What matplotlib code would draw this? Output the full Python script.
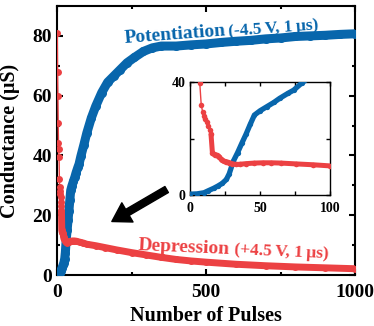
import numpy as np
import matplotlib
matplotlib.use("Agg")
import matplotlib.pyplot as plt
from matplotlib.ticker import MultipleLocator, FixedLocator

plt.rcParams['font.family'] = ['Liberation Serif', 'DejaVu Serif']
plt.rcParams['font.weight'] = 'bold'
plt.rcParams['mathtext.default'] = 'regular'

# Potentiation branch (-4.5 V, 1 us pulses)
pulse_pot = [0, 5, 10, 13, 17, 20, 23, 26, 28, 31, 34, 37, 40, 43, 46, 50, 55, 60,
             64, 70, 74, 80, 90, 100, 115, 130, 150, 170, 190, 210, 235, 260, 290,
             320, 350, 400, 450, 500, 550, 600, 650, 700, 750, 800, 850, 900, 950, 1000]
g_pot = [0.3, 0.4, 0.8, 1.5, 2.4, 3.2, 4.1, 5.5, 7.5, 12, 15, 18.3, 21.5, 25, 28.3,
         29.8, 31.3, 32.8, 34.2, 36, 37.1, 39.7, 43.5, 47.5, 52.5, 56.5, 61, 64.5,
         66.5, 68.5, 71, 72.8, 74.8, 76, 76.6, 76.6, 77, 77.3, 77.8, 78.2, 78.5, 79,
         79.3, 79.8, 80, 80.2, 80.5, 80.7]

# Depression branch (+4.5 V, 1 us pulses)
pulse_dep = [1, 2, 3, 4, 5, 6, 7, 8, 9, 10, 11, 12, 13, 14, 15, 16, 17, 18, 19, 20,
             21, 22, 23, 24, 26, 28, 30, 33, 36, 40, 46, 52, 58, 65, 76, 88, 100, 130,
             160, 200, 250, 300, 350, 400, 450, 500, 600, 700, 800, 900, 1000]
g_dep = [81, 68, 60, 51, 44, 42, 39.5, 32, 29.5, 28, 27, 26, 24.5, 23, 21.5, 15, 14.5,
         14.3, 14.1, 13.8, 13.5, 12.8, 12.3, 12, 11.8, 11.5, 11.1, 10.8, 10.9, 11.1,
         11.3, 11.4, 11.4, 11.3, 11, 10.7, 10.3, 9.8, 9.2, 8.4, 7.5, 6.7, 5.9, 5.2,
         4.7, 4.3, 3.6, 3.1, 2.7, 2.4, 2.1]

x_ticks_main = [0, 500, 1000]
y_ticks_main = [0, 20, 40, 60, 80]
x_ticks_inset = [0, 50, 100]
y_ticks_inset = [0, 40]

BLUE = '#0866ac'
RED = '#ec4143'
W, H = 374, 326


def draw_series(ax, x, y, color, ms, band_lw, dense_from):
    x = np.asarray(x, float)
    y = np.asarray(y, float)
    ax.plot(x, y, '-o', color=color, lw=1.0, ms=ms, mew=0, zorder=3)
    m = x >= dense_from
    ax.plot(x[m], y[m], '-', color=color, lw=band_lw,
            solid_capstyle='round', solid_joinstyle='round', zorder=3)


def style_axes(ax, spine_lw, major_len, minor_len, fs, xpad, ypad):
    for s in ax.spines.values():
        s.set_linewidth(spine_lw)
    ax.tick_params(which='both', direction='in', top=True, right=True,
                   width=spine_lw, labelsize=fs)
    ax.tick_params(which='major', length=major_len)
    ax.tick_params(which='minor', length=minor_len)
    ax.tick_params(axis='x', pad=xpad)
    ax.tick_params(axis='y', pad=ypad)


fig = plt.figure(figsize=(W / 100, H / 100), dpi=100)

# main axes
ax = fig.add_axes([57 / W, 1 - 275 / H, 298 / W, 269 / H])
draw_series(ax, pulse_pot, g_pot, BLUE, 6.5, 6.5, 0)
draw_series(ax, pulse_dep, g_dep, RED, 5.0, 5.0, 15)
ax.set_xlim(0, 1000)
ax.set_ylim(0, 90)
ax.xaxis.set_major_locator(FixedLocator(x_ticks_main))
ax.xaxis.set_minor_locator(MultipleLocator(250))
ax.yaxis.set_major_locator(FixedLocator(y_ticks_main))
ax.yaxis.set_minor_locator(MultipleLocator(10))
style_axes(ax, 1.5, 4, 2.5, 14, 6.5, 3.5)
ax.set_xlabel('Number of Pulses', fontsize=14.5, fontweight='bold')
ax.set_ylabel('Conductance (μS)', fontsize=14.5, fontweight='bold')
ax.xaxis.set_label_coords(0.5, -0.115)
ax.yaxis.set_label_coords(-0.125, 0.5)

# arrow pointing to the depression branch
ax.annotate('', xy=(184, 17.9), xytext=(368, 28.6),
            arrowprops=dict(facecolor='black', edgecolor='black', width=5,
                            headwidth=16, headlength=13, shrink=0))

# branch labels
fig.text(125 / W, 1 - 43 / H, 'Potentiation', color=BLUE, fontsize=14,
         fontweight='bold', rotation=4.3, rotation_mode='anchor',
         ha='left', va='baseline')
fig.text(229 / W, 1 - 36 / H, '(-4.5\u2009V, 1\u2009μs)', color=BLUE, fontsize=12.5,
         fontweight='bold', rotation=4.3, rotation_mode='anchor',
         ha='left', va='baseline')
fig.text(138 / W, 1 - 250 / H, 'Depression', color=RED, fontsize=14,
         fontweight='bold', rotation=-2.5, rotation_mode='anchor',
         ha='left', va='baseline')
fig.text(234 / W, 1 - 254 / H, '(+4.5\u2009V, 1\u2009μs)', color=RED, fontsize=12.5,
         fontweight='bold', rotation=-2.5, rotation_mode='anchor',
         ha='left', va='baseline')

# inset: first 100 pulses
axi = fig.add_axes([190 / W, 1 - 195 / H, 140 / W, 113 / H])
draw_series(axi, pulse_pot, g_pot, BLUE, 3.8, 3.8, 0)
draw_series(axi, pulse_dep, g_dep, RED, 4.0, 3.6, 15)
axi.set_xlim(0, 100)
axi.set_ylim(0, 40)
axi.xaxis.set_major_locator(FixedLocator(x_ticks_inset))
axi.xaxis.set_minor_locator(MultipleLocator(25))
axi.yaxis.set_major_locator(FixedLocator(y_ticks_inset))
axi.yaxis.set_minor_locator(MultipleLocator(20))
style_axes(axi, 1.0, 3, 3, 10, 5, 3)

fig.savefig('out.png', dpi=100)
